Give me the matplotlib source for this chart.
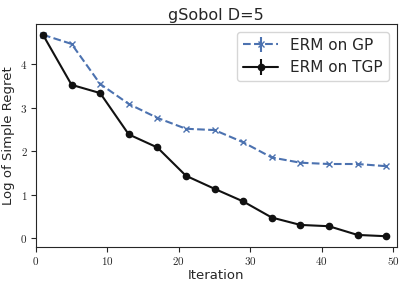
import matplotlib
matplotlib.use("Agg")
import matplotlib.pyplot as plt
from matplotlib.ticker import FuncFormatter
import seaborn as sns

iterations = [1, 5, 9, 13, 17, 21, 25, 29, 33, 37, 41, 45, 49]
erm_gp = [4.68, 4.47, 3.55, 3.09, 2.77, 2.52, 2.49, 2.21, 1.86, 1.74, 1.71, 1.71, 1.66]
erm_tgp = [4.68, 3.53, 3.34, 2.39, 2.09, 1.44, 1.14, 0.85, 0.48, 0.31, 0.28, 0.08, 0.05]
err_gp = [0.02] * len(iterations)
err_tgp = [0.02] * len(iterations)

sns.set_style("ticks")
plt.rcParams['font.family'] = ['DejaVu Sans']
plt.rcParams['mathtext.fontset'] = 'cm'

fig = plt.figure(figsize=(4.07, 2.88), dpi=100)
ax = fig.add_axes([0.088, 0.142, 0.887, 0.775])

ax.errorbar(iterations, erm_gp, yerr=err_gp, color="#4C72B0", ls="--",
            marker="x", ms=4, lw=1.5, label="ERM on GP")
ax.errorbar(iterations, erm_tgp, yerr=err_tgp, color="#111111", ls="-",
            marker="o", ms=4.5, lw=1.5, label="ERM on TGP")

ax.set_xlim(0, 50.5)
ax.set_ylim(-0.2, 4.93)
ax.set_xticks([0, 10, 20, 30, 40, 50])
ax.set_yticks([0, 1, 2, 3, 4])
fmt = FuncFormatter(lambda v, p: r"$%d$" % v)
ax.xaxis.set_major_formatter(fmt)
ax.yaxis.set_major_formatter(fmt)
ax.tick_params(labelsize=8, length=3.5, pad=2.5)

ax.set_title("gSobol D=5", fontsize=11.5, pad=3)
ax.set_xlabel("Iteration", fontsize=9.5, labelpad=1)
ax.set_ylabel("Log of Simple Regret", fontsize=9.5, labelpad=4)
ax.legend(loc="upper right", fontsize=11, handlelength=2.3, borderaxespad=0.5)

fig.savefig("out.png", dpi=100)
plt.close(fig)
